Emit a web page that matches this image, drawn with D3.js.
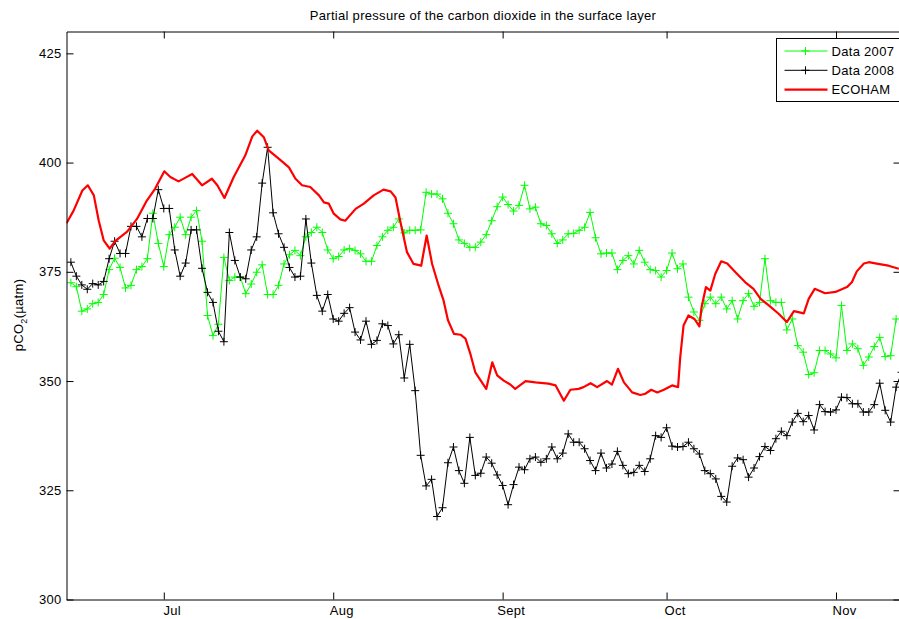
<!DOCTYPE html>
<html>
<head>
<meta charset="utf-8">
<script src="https://cdn.jsdelivr.net/npm/d3@7"></script>
<style>
  body { margin: 0; background: #fff; }
  text { font-family: 'Liberation Sans', Arial, sans-serif; letter-spacing: 0.3px; }
</style>
</head>
<body>
<div id="chart"></div>
<script>
// days are day-of-year, data sampled once a day from June 14
const startDay = 165

const data2007 = [
  372.5, 371.6, 366, 366.5, 367.7, 368, 369.8, 375.5, 378.1, 376,
  371.3, 371.9, 375.5, 376.2, 378, 388.4, 381.5, 376.2, 383.5, 385.2,
  387.5, 383.5, 387.5, 389, 382, 365, 360.4, 363, 378.3, 373,
  373.8, 373.8, 370, 372.2, 374.9, 376.6, 369.8, 369.8, 371.9, 376.8,
  378.9, 379.9, 378.7, 383, 384, 385.2, 384, 380,
  378, 378.5, 380, 380.3, 379.9, 379.1, 377.4, 377.4, 381, 383,
  384.5, 385.2, 387.1, 383.9, 384.5, 384.5, 384.6, 393.2, 392.8, 392.8,
  391.7, 388.4, 386, 382.3, 381.5, 380.6, 380.6, 381.8, 383.5, 386.7,
  389.9, 392.1, 390.4, 388.9, 390.2, 394.8, 389.4, 389.8, 386, 385.6,
  383.7, 381.5, 382.3, 383.7, 383.8, 384.5, 385.2, 388.6, 382.8, 379.1,
  379.3, 379.3, 375.5, 377.6, 378.7, 376.8, 379.9, 377.2, 375.5, 375.3,
  373.8, 375.3,
  379.3, 375.7, 376.8, 369.2, 365.8, 363.9, 367.7, 369.2, 367.7, 369.2,
  366.5, 368.4, 364.2, 368.4, 370, 367.1, 368, 378, 368.4, 368,
  368, 361.7,
  364.2, 358.1, 356.6, 351.5, 351.9, 357, 357, 356.2, 355.3, 367.3,
  357, 358.5, 357.4, 353.6, 355.5, 357.9, 360, 355.6, 355.8, 364.2
]

const data2008 = [
  377.2, 374, 372, 371, 372.3, 372, 372.8, 378, 382, 379.2,
  379.2, 385.4, 385.4, 383, 387.2, 387.2, 393.8, 389.5, 389.5, 380,
  374, 377, 384.6, 384.6, 375.8, 370.3, 368, 361.4, 359, 384,
  377.6, 373.8, 373.4, 380, 383, 395.3, 403.5, 388.5, 383.7, 380.6,
  376, 373.8, 374, 387.1, 377, 369.6, 366, 369.8,
  364.2, 363.7, 365.5, 366.8, 361.2, 359.4, 363.7, 358.4, 359.3, 363.1,
  362.7, 358.5, 360.6, 350.7, 358.4, 347.8, 333, 326, 327.5, 319,
  321, 331.3, 334.9, 329.5, 326.6, 337.1, 328.4, 328.9, 332.6, 331.2,
  328.5, 326.1, 321.7, 326.3, 330.3, 329.7, 332.2, 332.6, 331.4, 332.2,
  334.9, 332.2, 333.5, 337.9, 336, 336, 334.5, 331.8, 329.5, 333.5,
  330.1, 331, 333.9, 330.7, 328.8, 329.1, 330.7, 329.3, 332.2, 337.5,
  337.1, 339.3,
  335.1, 334.9, 335, 336, 334.5, 333.3, 329.5, 328.8, 327.6, 323.6,
  322.3, 330.5, 332.4, 332, 328, 330.1, 332.7, 335, 334.1, 336.8,
  338.5, 337.5, 340.6, 342.6, 340.7, 342.1, 338.8, 344.6, 343, 342.9,
  343.4, 346.3, 346.2, 344.8, 344.8, 342.9, 342.9, 344.6, 349.5, 343.3,
  340.6, 348.6, 352
]

// model line
const ecohamDays = [
  164.2, 165.5, 167.1, 168.1, 169.2, 170.1, 171, 172.1, 173.1, 175.3,
  177.1, 178.9, 180.4, 182.1, 183.2, 184.7, 185.9, 187.2, 189, 190.8,
  191.8, 193.1, 194.8, 196.9, 198.2, 199.1, 200.3, 201.2, 203.3, 204.9,
  206.1, 207.3, 208.8, 210.4, 211.3, 212.2, 213.1, 214.3, 215.2, 217.1,
  218.6, 220.4, 222.2, 223.5, 224.4, 225.3, 226.5, 227.7, 229.1, 230.1,
  231.1, 232.2, 233.2, 234, 235.1, 236.3, 237.2, 238.1, 239, 240,
  241, 242.1, 243, 244.2, 245.4, 246.3, 248.2, 250, 252.4, 253.7,
  255.2, 256.4, 257.9, 258.8, 260.1, 261.3, 263.1, 264, 265.1, 266.2,
  267.7, 269.2, 270.1, 271.2, 272.3, 273.5, 275, 276.1, 276.5, 277.1,
  278, 279.1, 280, 280.4, 281.2, 282, 282.9, 284, 285.1, 286.6,
  288.4, 289.9, 291.2, 292.7, 294.5, 296, 297.3, 299.1, 300, 301.1,
  303, 304.9, 307, 307.9, 308.8, 310.1, 311, 312.7, 314.6, 316.5
]
const ecohamValues = [
  386.1, 389, 393.6, 394.8, 392.5, 386.7, 382.2, 380.3, 382, 384.2,
  387.1, 391.3, 394, 398, 396.7, 395.7, 396.5, 397.4, 394.8, 396.3,
  394.8, 391.9, 396.7, 401.6, 406, 407.3, 405.8, 402.8, 400.6, 398.9,
  396.3, 394.8, 394.4, 392.5, 390.9, 390.6, 388.3, 387, 386.7, 389.4,
  390.6, 392.5, 393.8, 393.4, 392, 386.4, 379.5, 376.8, 376.4, 383.3,
  376.8, 372.2, 368.4, 363.9, 360.8, 360.6, 359.7, 356.2, 352, 350.1,
  348.2, 354.3, 351.3, 350.1, 349.2, 348.2, 350, 349.7, 349.4, 349,
  345.5, 348, 348.2, 348.6, 349.5, 348.6, 350, 349.2, 352.8, 349.7,
  347.4, 346.8, 347.1, 348, 347.4, 348, 349, 348.6, 355.5, 362.7,
  365, 364.2, 362.5, 366.9, 371.5, 370.7, 374.5, 377.4, 376.9, 374.9,
  372.6, 371.1, 368.8, 367.3, 365.4, 363.5, 366, 365.5, 368.8, 371.1,
  370.1, 370.4, 371.5, 372.6, 375.1, 376.9, 377.2, 376.8, 376.4, 375.7
]

const monthDays = [182, 213, 244, 274, 305]
const monthLabels = ['Jul', 'Aug', 'Sept', 'Oct', 'Nov']
const yTicks = [300, 325, 350, 375, 400, 425]

const legendLabels = ['Data 2007', 'Data 2008', 'ECOHAM']
const seriesColors = ['#00ff00', '#000000', '#ff0000']

const margin = { top: 31, left: 66, right: -1, bottom: 20 }
const width = 899 - margin.left - margin.right
const height = 619 - margin.top - margin.bottom

const svg = d3
  .select('#chart')
  .append('svg')
  .attr('width', 899)
  .attr('height', 619)

const g = svg
  .append('g')
  .attr('transform', 'translate(' + (margin.left + 0.5) + ',' + (margin.top + 0.5) + ')')

const x = d3.scaleLinear().domain([164.2, 316.8]).range([0, width])
const y = d3.scaleLinear().domain([300, 430]).range([height, 0])

svg
  .append('text')
  .text('Partial pressure of the carbon dioxide in the surface layer')
  .attr('x', margin.left + width / 2)
  .attr('y', 20)
  .attr('text-anchor', 'middle')
  .attr('font-size', 13)

// y label with subscript
const ylab = svg
  .append('text')
  .attr('transform', 'translate(23,315) rotate(-90)')
  .attr('text-anchor', 'middle')
  .attr('font-size', 13)
ylab.append('tspan').text('pCO')
ylab.append('tspan').text('2').attr('font-size', 9).attr('dy', 4)
ylab.append('tspan').text('(µatm)').attr('dy', -4)

g.append('clipPath')
  .attr('id', 'plot-clip')
  .append('rect')
  .attr('x', 0)
  .attr('y', 0)
  .attr('width', width)
  .attr('height', height)

const plot = g.append('g').attr('clip-path', 'url(#plot-clip)')

const line = d3
  .line()
  .x(d => x(d.day))
  .y(d => y(d.value))

const pts2007 = data2007.map((v, i) => ({ day: startDay + i, value: v }))
const pts2008 = data2008.map((v, i) => ({ day: startDay + i, value: v }))
const ptsEcoham = ecohamDays.map((d, i) => ({ day: d, value: ecohamValues[i] }))

const plus = 'M-4,0H4M0,-4V4'

;[pts2007, pts2008].forEach(function(pts, k) {
  plot
    .append('path')
    .datum(pts)
    .attr('d', line)
    .attr('fill', 'none')
    .attr('stroke', seriesColors[k])
    .attr('stroke-width', 1)

  plot
    .selectAll('.mark' + k)
    .data(pts)
    .enter()
    .append('path')
    .attr('class', 'mark' + k)
    .attr('d', plus)
    .attr('stroke', seriesColors[k])
    .attr('stroke-width', 1)
    .attr('transform', d => `translate(${x(d.day)},${y(d.value)})`)
})

plot
  .append('path')
  .datum(ptsEcoham)
  .attr('d', line)
  .attr('fill', 'none')
  .attr('stroke', seriesColors[2])
  .attr('stroke-width', 2.2)
  .attr('stroke-linejoin', 'round')

// axes, ticks point inward like matlab
const xBottom = g
  .append('g')
  .attr('transform', 'translate(0,' + height + ')')
  .call(d3.axisBottom(x).tickValues(monthDays).tickFormat((d, i) => monthLabels[i]).tickSizeInner(-7).tickSizeOuter(0).tickPadding(6))
xBottom.selectAll('text').attr('x', 8).attr('font-size', 13)

g.append('g')
  .call(d3.axisTop(x).tickValues(monthDays).tickFormat('').tickSizeInner(-7).tickSizeOuter(0))

g.append('g')
  .call(d3.axisLeft(y).tickValues(yTicks).tickSizeInner(-7).tickSizeOuter(0).tickPadding(5))
  .selectAll('text')
  .attr('font-size', 13)

g.append('g')
  .attr('transform', 'translate(' + width + ',0)')
  .call(d3.axisRight(y).tickValues(yTicks).tickFormat('').tickSizeInner(-7).tickSizeOuter(0))

g.selectAll('.domain, .tick line').attr('stroke', '#000')
g.selectAll('.tick text').attr('fill', '#000').attr('font-family', "'Liberation Sans', Arial, sans-serif")

// legend
const legend = svg.append('g').attr('transform', 'translate(776.5,38.5)')
legend
  .append('rect')
  .attr('width', 140)
  .attr('height', 63)
  .attr('fill', '#fff')
  .attr('stroke', '#000')

legendLabels.forEach(function(label, i) {
  const ly = 12.5 + i * 19.3
  legend
    .append('line')
    .attr('x1', 8)
    .attr('x2', 51)
    .attr('y1', ly)
    .attr('y2', ly)
    .attr('stroke', seriesColors[i])
    .attr('stroke-width', i === 2 ? 2.2 : 1)
  if (i < 2) {
    legend
      .append('path')
      .attr('d', plus)
      .attr('stroke', seriesColors[i])
      .attr('transform', `translate(29,${ly})`)
  }
  legend
    .append('text')
    .text(label)
    .attr('x', 55)
    .attr('y', ly + 4.5)
    .attr('font-size', 13)
})
</script>
</body>
</html>
